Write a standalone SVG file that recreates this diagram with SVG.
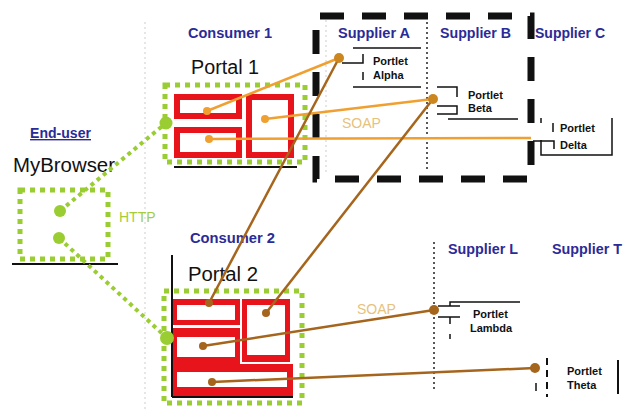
<svg xmlns="http://www.w3.org/2000/svg" width="629" height="411" viewBox="0 0 629 411">
<style>
.bg{fill:#ffffff}
.blue{font-family:"Liberation Sans",Arial,sans-serif;font-size:14px;font-weight:bold;fill:#2b2b96}
.big{font-family:"Liberation Sans",Arial,sans-serif;font-size:20px;fill:#111111}
.plet{font-family:"Liberation Sans",Arial,sans-serif;font-size:11px;font-weight:bold;fill:#111111}
.soap{font-family:"Liberation Sans",Arial,sans-serif;font-size:14px;fill:#e6c27c}
.http{font-family:"Liberation Sans",Arial,sans-serif;font-size:14px;fill:#a6cc3c}
.gbox{fill:none;stroke:#9acd32;stroke-width:5;stroke-dasharray:5 5}
.gline{fill:none;stroke:#9acd32;stroke-width:4;stroke-dasharray:4 4}
.gdot{fill:#9acd32}
.redbox{fill:none;stroke:#e8141c;stroke-width:6}
.redfill{fill:#e8141c}
.white{fill:#ffffff}
.blk{stroke:#111111;stroke-width:2;fill:none}
.thin{stroke:#111111;stroke-width:1.5;fill:none}
.vdot{stroke:#222222;stroke-width:1.5;stroke-dasharray:2 3;fill:none}
.gray{stroke:#d6d6d6;stroke-width:1.2;stroke-dasharray:2 3;fill:none}
.orange{stroke:#f0a030;stroke-width:2.5;fill:none}
.brown{stroke:#a5651c;stroke-width:2.5;fill:none}
.odot{fill:#f0a030}
.bdot{fill:#a5651c}
.cdot{fill:#cc8620}
</style>
<rect class="bg" x="0" y="0" width="629" height="411"/>

<g id="separators">
<line class="gray" x1="145" y1="22" x2="145" y2="411"/>
<line class="gray" x1="326" y1="20" x2="326" y2="172"/>
<line class="vdot" x1="427" y1="22" x2="427" y2="170"/>
<line class="vdot" x1="434" y1="242" x2="434" y2="390"/>
<rect x="316" y="16" width="215" height="163" fill="none" stroke="#111111" stroke-width="7" stroke-dasharray="24 18" stroke-dashoffset="-4"/>
</g>

<g id="end-user">
<text class="blue" x="30" y="138" text-decoration="underline" textLength="61" lengthAdjust="spacingAndGlyphs">End-user</text>
<text class="big" x="13" y="172" textLength="102" lengthAdjust="spacingAndGlyphs">MyBrowser</text>
<rect class="gbox" x="20" y="190" width="88" height="69"/>
<line class="blk" x1="12" y1="264" x2="118" y2="264"/>
<text class="http" x="119" y="222">HTTP</text>
</g>

<g id="consumer1">
<text class="blue" x="188" y="38" textLength="84" lengthAdjust="spacingAndGlyphs">Consumer 1</text>
<text class="big" x="191" y="74" textLength="68" lengthAdjust="spacingAndGlyphs">Portal 1</text>
<rect class="gbox" x="165" y="85" width="140" height="77"/>
<line class="blk" x1="174" y1="167" x2="297" y2="167"/>
<rect class="redbox" x="177" y="97" width="62" height="19"/>
<rect class="redbox" x="177" y="130" width="62" height="25"/>
<rect class="redbox" x="249" y="97" width="42" height="58"/>
</g>

<g id="consumer2">
<text class="blue" x="190" y="243" textLength="85" lengthAdjust="spacingAndGlyphs">Consumer 2</text>
<text class="big" x="188" y="281" textLength="70" lengthAdjust="spacingAndGlyphs">Portal 2</text>
<rect class="gbox" x="164" y="291" width="138" height="112"/>
<rect class="redfill" x="172" y="299" width="68" height="26"/>
<rect class="redfill" x="242" y="299" width="48" height="63"/>
<rect class="redfill" x="172" y="328" width="68" height="36"/>
<rect class="redfill" x="172" y="364" width="121" height="33"/>
<rect class="white" x="177" y="305" width="58" height="15"/>
<rect class="white" x="247" y="305" width="38" height="50"/>
<rect class="white" x="177" y="337" width="58" height="20"/>
<rect class="white" x="177" y="372" width="110" height="15"/>
<line class="blk" x1="172" y1="255" x2="172" y2="397"/>
<line class="blk" x1="172" y1="397" x2="293" y2="397"/>
</g>

<g id="supplierA">
<text class="blue" x="338" y="38" textLength="72" lengthAdjust="spacingAndGlyphs">Supplier A</text>
<line class="thin" x1="353" y1="48" x2="421" y2="48"/>
<line class="thin" x1="353" y1="87" x2="421" y2="87"/>
<polyline class="thin" points="342,63 363,63 363,54"/>
<line class="thin" x1="363" y1="72" x2="363" y2="80"/>
<text class="plet" x="373" y="65">Portlet</text>
<text class="plet" x="373" y="79">Alpha</text>
</g>

<g id="supplierB">
<text class="blue" x="440" y="38" textLength="71" lengthAdjust="spacingAndGlyphs">Supplier B</text>
<polyline class="thin" points="437,87 457,87 457,97"/>
<polyline class="thin" points="437,106 457,106 457,114 437,114"/>
<line class="thin" x1="448" y1="119" x2="518" y2="119"/>
<text class="plet" x="468" y="99">Portlet</text>
<text class="plet" x="468" y="112">Beta</text>
</g>

<g id="supplierC">
<text class="blue" x="535" y="38" textLength="70" lengthAdjust="spacingAndGlyphs">Supplier C</text>
<line class="thin" x1="541" y1="118" x2="541" y2="123"/>
<line class="thin" x1="553" y1="123" x2="553" y2="132"/>
<polyline class="thin" points="533,141 554,141 554,149"/>
<polyline class="thin" points="541,140 541,155 612,155 612,118"/>
<text class="plet" x="560" y="132">Portlet</text>
<text class="plet" x="560" y="149">Delta</text>
</g>

<g id="supplierL">
<text class="blue" x="448" y="254" textLength="70" lengthAdjust="spacingAndGlyphs">Supplier L</text>
<polyline class="thin" points="520,302 450,302 450,306"/>
<line class="thin" x1="438" y1="306" x2="460" y2="306"/>
<line class="thin" x1="438" y1="317" x2="460" y2="317"/>
<line class="thin" x1="450" y1="317" x2="450" y2="324"/>
<line class="thin" x1="450" y1="334" x2="450" y2="339"/>
<text class="plet" x="473" y="318">Portlet</text>
<text class="plet" x="470" y="332">Lambda</text>
</g>

<g id="supplierT">
<text class="blue" x="552" y="254" textLength="70" lengthAdjust="spacingAndGlyphs">Supplier T</text>
<line x1="547" y1="358" x2="547" y2="397" stroke="#111111" stroke-width="2" stroke-dasharray="7 5"/>
<line class="thin" x1="536" y1="383" x2="536" y2="391"/>
<line class="blk" x1="618" y1="360" x2="618" y2="394"/>
<text class="plet" x="567" y="375">Portlet</text>
<text class="plet" x="567" y="389">Theta</text>
</g>

<g id="connectors">
<line class="gline" x1="60" y1="211" x2="166" y2="123"/>
<line class="gline" x1="59" y1="238" x2="167" y2="338"/>
<circle class="gdot" cx="60" cy="211" r="6"/>
<circle class="gdot" cx="59" cy="238" r="6"/>
<circle class="gdot" cx="166" cy="123" r="6.5"/>
<circle class="gdot" cx="167" cy="338" r="7"/>

<line class="orange" x1="207" y1="111" x2="339" y2="58"/>
<line class="orange" x1="265" y1="119" x2="433" y2="99"/>
<line class="orange" x1="209" y1="139" x2="531" y2="138"/>
<circle class="odot" cx="207" cy="111" r="4"/>
<circle class="odot" cx="265" cy="119" r="4"/>
<circle class="odot" cx="209" cy="139" r="4"/>

<line class="brown" x1="209" y1="303" x2="339" y2="58"/>
<line class="brown" x1="266" y1="313" x2="433" y2="99"/>
<line class="brown" x1="203" y1="346" x2="434" y2="310"/>
<line class="brown" x1="212" y1="382" x2="535" y2="368"/>
<circle class="bdot" cx="209" cy="303" r="4"/>
<circle class="bdot" cx="266" cy="313" r="4"/>
<circle class="bdot" cx="203" cy="346" r="4"/>
<circle class="bdot" cx="212" cy="382" r="4"/>

<circle class="cdot" cx="339" cy="58" r="5"/>
<circle class="cdot" cx="433" cy="99" r="5"/>
<circle class="bdot" cx="434" cy="310" r="5"/>
<circle class="bdot" cx="535" cy="368" r="5"/>

<text class="soap" x="342" y="128">SOAP</text>
<text class="soap" x="357" y="314">SOAP</text>
</g>
</svg>
